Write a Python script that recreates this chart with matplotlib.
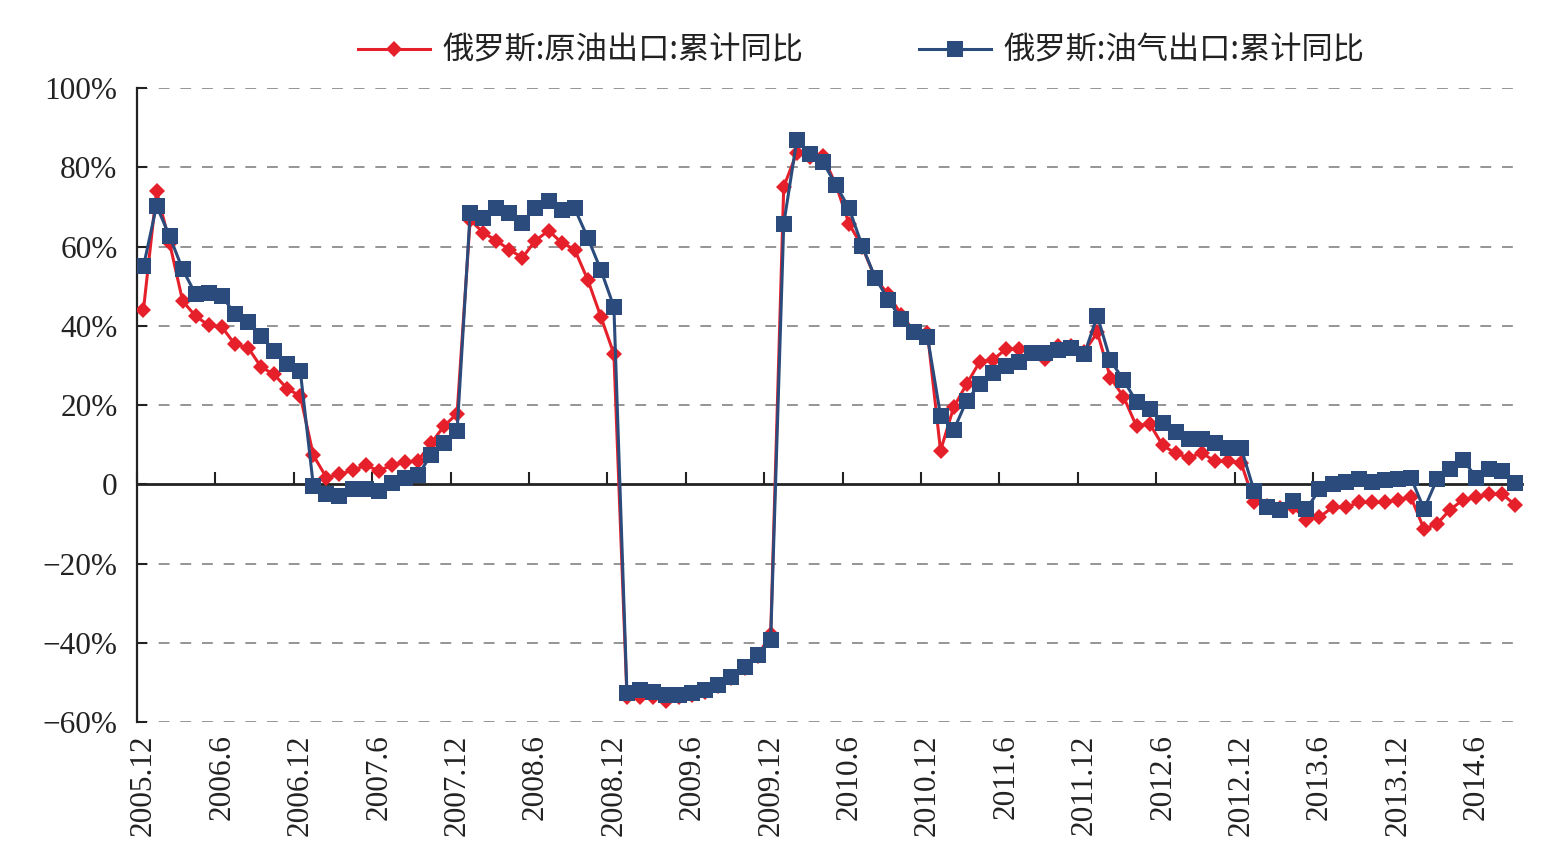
import matplotlib
matplotlib.use("Agg")
import matplotlib.pyplot as plt
from matplotlib.ticker import FixedLocator, FixedFormatter

# ---------------- data ----------------
START_YEAR, START_MONTH = 2005, 12
N_MONTHS = 106
months = []
y, m = START_YEAR, START_MONTH
for _ in range(N_MONTHS):
    months.append(f"{y}.{m}")
    m += 1
    if m > 12:
        m = 1
        y += 1

crude_oil = [
    44.1, 74.0, 60.9, 46.2, 42.4, 40.1, 39.7, 35.3, 34.5, 29.6, 27.7, 24.1, 22.3,
    7.3, 1.7, 2.5, 3.5, 4.8, 3.4, 4.8, 5.5, 5.9, 10.3, 14.7, 17.8,
    66.7, 63.5, 61.5, 59.2, 57.2, 61.5, 64.0, 61.0, 59.2, 51.6, 42.3, 32.9,
    -53.6, -53.6, -53.6, -54.7, -53.8, -53.2, -52.5, -51.0, -48.8, -46.4, -43.4, -37.8,
    75.1, 83.6, 82.6, 82.8, 75.5, 65.7, 60.0, 52.0, 47.9, 42.8, 38.5, 38.2,
    8.5, 19.4, 25.3, 30.9, 31.4, 34.1, 34.1, 33.2, 31.5, 34.9, 34.9, 33.5,
    38.3, 26.9, 22.1, 14.6, 15.3, 9.8, 7.8, 6.7, 7.9, 5.8, 5.8, 5.4,
    -4.4, -5.4, -6.0, -5.8, -8.9, -8.3, -5.8, -5.8, -4.6, -4.6, -4.6, -3.9, -3.3,
    -11.3, -10.0, -6.4, -3.9, -3.3, -2.5, -2.5, -5.3,
]

oil_gas = [
    55.0, 70.3, 62.6, 54.2, 47.9, 48.3, 47.6, 42.9, 40.9, 37.4, 33.6, 30.3, 28.6,
    -0.4, -2.5, -3.0, -1.3, -1.1, -1.7, 0.4, 1.7, 2.3, 7.3, 10.5, 13.4,
    68.5, 67.3, 69.8, 68.5, 66.0, 69.8, 71.4, 69.1, 69.6, 62.2, 54.1, 44.8,
    -52.7, -52.0, -52.5, -53.2, -53.2, -52.7, -52.0, -50.7, -48.6, -46.2, -43.0, -39.2,
    65.7, 86.9, 83.4, 81.3, 75.5, 69.6, 60.2, 52.1, 46.6, 41.6, 38.4, 37.2,
    17.3, 13.6, 21.1, 25.3, 28.0, 29.9, 30.9, 33.2, 33.2, 33.9, 34.5, 32.8,
    42.5, 31.3, 26.3, 20.8, 18.9, 15.4, 13.3, 11.4, 11.4, 10.4, 9.2, 9.2,
    -1.7, -5.8, -6.4, -4.2, -6.3, -1.3, 0.0, 0.6, 1.3, 0.6, 1.1, 1.3, 1.7,
    -6.3, 1.3, 3.8, 6.1, 1.7, 3.8, 3.3, 0.4,
]

tick_labels = ["2005.12", "2006.6", "2006.12", "2007.6", "2007.12", "2008.6",
               "2008.12", "2009.6", "2009.12", "2010.6", "2010.12", "2011.6",
               "2011.12", "2012.6", "2012.12", "2013.6", "2013.12", "2014.6"]

y_ticks = [-60, -40, -20, 0, 20, 40, 60, 80, 100]
y_tick_labels = ["\u221260%", "\u221240%", "\u221220%", "0", "20%", "40%", "60%", "80%", "100%"]

series_names = ["俄罗斯:原油出口:累计同比", "俄罗斯:油气出口:累计同比"]

# ---------------- styling ----------------
RED = "#E5202B"
BLUE = "#2A4B7C"
SERIF = ["Liberation Serif", "DejaVu Serif"]
CJK = ["Noto Sans CJK SC", "DejaVu Sans"]

fig = plt.figure(figsize=(15.58, 8.68), dpi=100)
ax = fig.add_axes([0.0879, 0.1682, 0.8890, 0.7304])

x = list(range(len(months)))
l1, = ax.plot(x, crude_oil, color=RED, lw=2.2, marker="D", markersize=8,
              markeredgewidth=0, zorder=3, label=series_names[0])
l2, = ax.plot(x, oil_gas, color=BLUE, lw=2.2, marker="s", markersize=11.5,
              markeredgewidth=0, zorder=4, label=series_names[1])

ax.set_xlim(-0.5, len(months) - 0.5)
ax.set_ylim(-60, 100)

# gridlines (dashed), excluding zero line
for yv in y_ticks:
    if yv != 0:
        ax.axhline(yv, color="#8c8c8c", lw=1.3, ls=(0, (6, 6)), zorder=1)

# y axis
ax.yaxis.set_major_locator(FixedLocator(y_ticks))
ax.yaxis.set_major_formatter(FixedFormatter(y_tick_labels))
ax.tick_params(axis="y", direction="in", length=7, width=1.5, pad=14,
               labelsize=22.5, colors="#222222")
for lab in ax.get_yticklabels():
    lab.set_family(SERIF)
ax.spines["left"].set_linewidth(1.6)
ax.spines["left"].set_color("#222222")
ax.spines["top"].set_visible(False)
ax.spines["right"].set_visible(False)

# x axis line at zero with category-boundary ticks
ax.spines["bottom"].set_position(("data", 0))
ax.spines["bottom"].set_linewidth(2.0)
ax.spines["bottom"].set_color("#222222")
ax.spines["bottom"].set_zorder(2)
label_pos = [months.index(t) for t in tick_labels]
ax.xaxis.set_major_locator(FixedLocator([p - 0.5 for p in label_pos]))
ax.tick_params(axis="x", direction="in", length=9, width=1.5,
               labelbottom=False, colors="#222222")

# tick labels at the bottom via a twin axis
ax2 = ax.twiny()
ax2.set_xlim(ax.get_xlim())
ax2.xaxis.set_ticks_position("bottom")
ax2.xaxis.set_major_locator(FixedLocator(label_pos))
ax2.xaxis.set_major_formatter(FixedFormatter(tick_labels))
ax2.tick_params(axis="x", length=0, pad=9, labelsize=22.5, colors="#222222",
                labeltop=False, labelbottom=True)
for lab in ax2.get_xticklabels():
    lab.set_rotation(90)
    lab.set_family(SERIF)
for s in ax2.spines.values():
    s.set_visible(False)

# legend
fig.legend(handles=[l1, l2], loc="center", bbox_to_anchor=(0.5526, 0.9415),
           ncol=2, frameon=False, prop={"family": CJK, "size": 22.5},
           handlelength=2.3, handletextpad=0.4, columnspacing=3.7,
           labelcolor="#222222")

fig.savefig("out.png", dpi=100)
